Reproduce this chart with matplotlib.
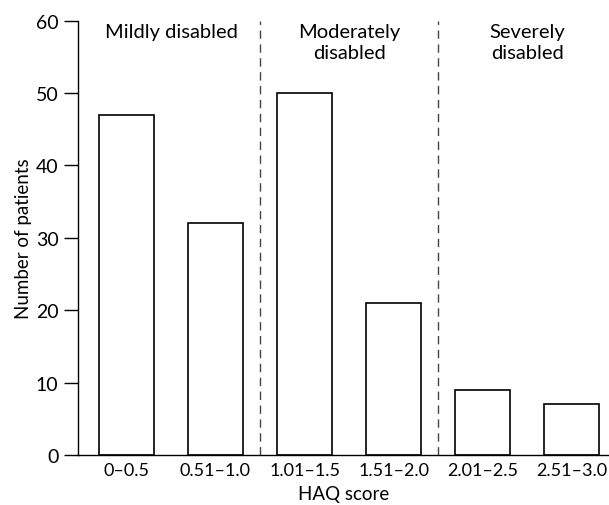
import matplotlib
matplotlib.use('Agg')
import matplotlib.pyplot as plt

categories = ["0\u20130.5", "0.51\u20131.0", "1.01\u20131.5", "1.51\u20132.0", "2.01\u20132.5", "2.51\u20133.0"]
patients = [47, 32, 50, 21, 9, 7]
group_labels = ["Mildly disabled", "Moderately\ndisabled", "Severely\ndisabled"]
group_centres = [0.5, 2.5, 4.5]
group_bounds = [1.5, 3.5]

plt.rcParams['font.family'] = ['Lato', 'DejaVu Sans']
plt.rcParams['font.size'] = 13

fig = plt.figure(figsize=(6.09, 5.06), dpi=100)
ax = fig.add_axes([0.128, 0.099, 0.872, 0.858])

x = list(range(len(categories)))
ax.bar(x, patients, width=0.62, color='white', edgecolor='black', linewidth=1.2)

for b in group_bounds:
  ax.axvline(b, color='#444444', linestyle=(0, (6, 4)), linewidth=1)

for cx, lbl in zip(group_centres, group_labels):
  ax.text(cx, 59.7, lbl, ha='center', va='top', fontsize=14.5, linespacing=1.3)

ax.set_xlim(-0.545, 5.42)
ax.set_ylim(0, 60)
ax.set_yticks(range(0, 61, 10))
ax.set_xticks(x)
ax.set_xticklabels(categories)
ax.tick_params(axis='x', length=0, pad=5, labelsize=13)
ax.tick_params(axis='y', length=10, width=1, pad=4, labelsize=14)
ax.spines['top'].set_visible(False)
ax.spines['right'].set_visible(False)
ax.spines['left'].set_linewidth(1)
ax.spines['bottom'].set_linewidth(1)
ax.set_xlabel("HAQ score", labelpad=5, fontsize=13.5)
ax.set_ylabel("Number of patients", labelpad=3, fontsize=13.5)

plt.savefig("out.png")
plt.close()
